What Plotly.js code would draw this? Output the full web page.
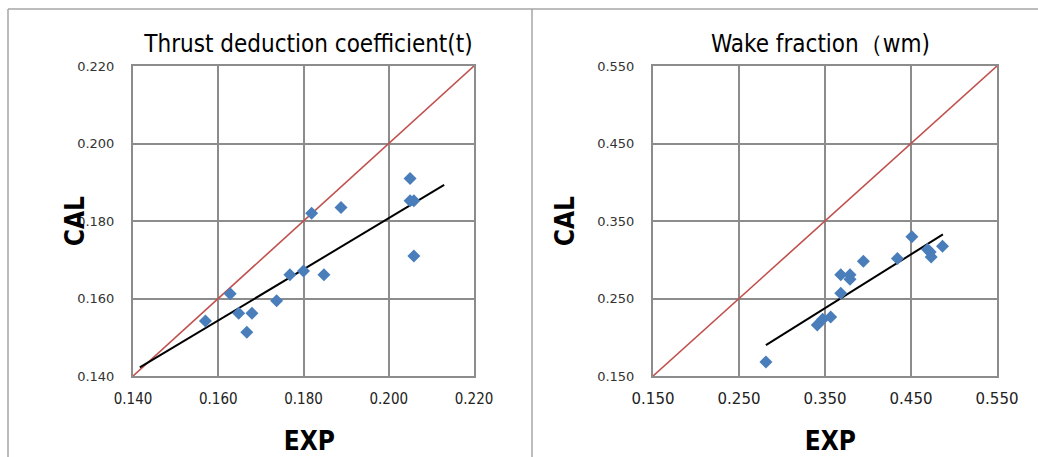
<!DOCTYPE html>
<html>
<head>
<meta charset="utf-8">
<script src="https://cdn.plot.ly/plotly-3.0.1.min.js"></script>
<style>
html,body{margin:0;padding:0;background:#fff;}
#chart{width:1038px;height:457px;}
#chart .annotation-text, #chart .xtick text { font-stretch: condensed !important; }
</style>
</head>
<body>
<div id="chart"></div>
<script>
// Thrust deduction coefficient (t)
const tExp = [0.2050, 0.2050, 0.2059, 0.2059, 0.1819, 0.1888, 0.1768, 0.1800, 0.1848, 0.1628, 0.1737, 0.1648, 0.1679, 0.1570, 0.1667];
const tCal = [0.1910, 0.1852, 0.1852, 0.1710, 0.1820, 0.1835, 0.1661, 0.1671, 0.1661, 0.1612, 0.1594, 0.1562, 0.1562, 0.1542, 0.1513];
const tTrendX = [0.1416, 0.2130];
const tTrendY = [0.1422, 0.1893];
const tDiag = [0.140, 0.220];
const tTicks = [0.140, 0.160, 0.180, 0.200, 0.220];

// Wake fraction (wm)
const wExp = [0.2813, 0.3410, 0.3473, 0.3566, 0.3683, 0.3683, 0.3791, 0.3791, 0.3946, 0.4342, 0.4510, 0.4692, 0.4723, 0.4735, 0.4866];
const wCal = [0.1682, 0.2158, 0.2231, 0.2262, 0.2569, 0.2808, 0.2808, 0.2747, 0.2981, 0.3016, 0.3296, 0.3132, 0.3101, 0.3036, 0.3175];
const wTrendX = [0.2813, 0.4871];
const wTrendY = [0.1899, 0.3327];
const wDiag = [0.150, 0.550];
const wTicks = [0.150, 0.250, 0.350, 0.450, 0.550];

const titles = ["Thrust deduction coefficient(t)", "Wake fraction（wm)"];
const xLabel = "EXP";
const yLabel = "CAL";

const W = 1038, H = 457;
const px = v => v / W;
const py = v => 1 - v / H;

const blue = "#4a7ebb", red = "#c0504d", grid = "#8c8c8c";
const font = "DejaVu Sans, sans-serif";

const traces = [
  {x: tDiag, y: tDiag, mode: "lines", line: {color: red, width: 1.6}, xaxis: "x", yaxis: "y"},
  {x: tTrendX, y: tTrendY, mode: "lines", line: {color: "#000", width: 2}, xaxis: "x", yaxis: "y"},
  {x: tExp, y: tCal, mode: "markers", marker: {symbol: "diamond", size: 10, color: blue}, xaxis: "x", yaxis: "y"},
  {x: wDiag, y: wDiag, mode: "lines", line: {color: red, width: 1.6}, xaxis: "x2", yaxis: "y2"},
  {x: wTrendX, y: wTrendY, mode: "lines", line: {color: "#000", width: 2}, xaxis: "x2", yaxis: "y2"},
  {x: wExp, y: wCal, mode: "markers", marker: {symbol: "diamond", size: 10, color: blue}, xaxis: "x2", yaxis: "y2"}
];

function xa(domain, range, ticks, anchor) {
  return {domain: domain, range: range, tickvals: ticks, ticktext: ticks.map(v => v.toFixed(3)),
    showgrid: true, gridcolor: grid, gridwidth: 2, zeroline: false,
    showline: true, linecolor: grid, linewidth: 2, mirror: true, ticks: "",
    tickfont: {family: font, size: 15, color: "#222"}, ticklabelstandoff: 8, anchor: anchor, fixedrange: true};
}
function ya(domain, range, ticks, anchor) {
  return {domain: domain, range: range, tickvals: ticks, ticktext: ticks.map(v => v.toFixed(3)),
    showgrid: true, gridcolor: grid, gridwidth: 2, zeroline: false,
    showline: true, linecolor: grid, linewidth: 2, mirror: true, ticks: "",
    tickfont: {family: font, size: 13, color: "#333"}, ticklabelstandoff: 14, anchor: anchor, fixedrange: true};
}

const yDom = [py(376), py(66)];
const layout = {
  width: W, height: H, margin: {l: 0, r: 0, t: 0, b: 0},
  paper_bgcolor: "#fff", plot_bgcolor: "#fff", showlegend: false,
  xaxis: xa([px(133), px(474)], [tTicks[0], tTicks[4]], tTicks, "y"),
  yaxis: ya(yDom, [tTicks[0], tTicks[4]], tTicks, "x"),
  xaxis2: xa([px(653), px(997)], [wTicks[0], wTicks[4]], wTicks, "y2"),
  yaxis2: ya(yDom, [wTicks[0], wTicks[4]], wTicks, "x2"),
  shapes: [
    {type: "line", xref: "paper", yref: "paper", x0: px(8), x1: 1, y0: py(9), y1: py(9), line: {color: "#a6a6a6", width: 1.5}},
    {type: "line", xref: "paper", yref: "paper", x0: px(8), x1: px(8), y0: py(9), y1: 0, line: {color: "#a6a6a6", width: 1.5}},
    {type: "line", xref: "paper", yref: "paper", x0: px(532), x1: px(532), y0: py(9), y1: 0, line: {color: "#a6a6a6", width: 1.5}}
  ],
  annotations: [
    {text: titles[0], xref: "paper", yref: "paper", x: px(308), y: py(44), showarrow: false, xanchor: "center", yanchor: "middle", font: {family: font, size: 24, color: "#000"}},
    {text: titles[1], xref: "paper", yref: "paper", x: px(820), y: py(44), showarrow: false, xanchor: "center", yanchor: "middle", font: {family: font, size: 24, color: "#000"}},
    {text: "<b>" + xLabel + "</b>", xref: "paper", yref: "paper", x: px(309), y: py(441), showarrow: false, xanchor: "center", yanchor: "middle", font: {family: font, size: 26, color: "#000"}},
    {text: "<b>" + xLabel + "</b>", xref: "paper", yref: "paper", x: px(830), y: py(441), showarrow: false, xanchor: "center", yanchor: "middle", font: {family: font, size: 26, color: "#000"}},
    {text: "<b>" + yLabel + "</b>", xref: "paper", yref: "paper", x: px(75), y: py(221), showarrow: false, textangle: -90, xanchor: "center", yanchor: "middle", font: {family: font, size: 26, color: "#000"}},
    {text: "<b>" + yLabel + "</b>", xref: "paper", yref: "paper", x: px(565), y: py(221), showarrow: false, textangle: -90, xanchor: "center", yanchor: "middle", font: {family: font, size: 26, color: "#000"}}
  ]
};

Plotly.newPlot("chart", traces, layout, {displayModeBar: false, staticPlot: true});
</script>
</body>
</html>
